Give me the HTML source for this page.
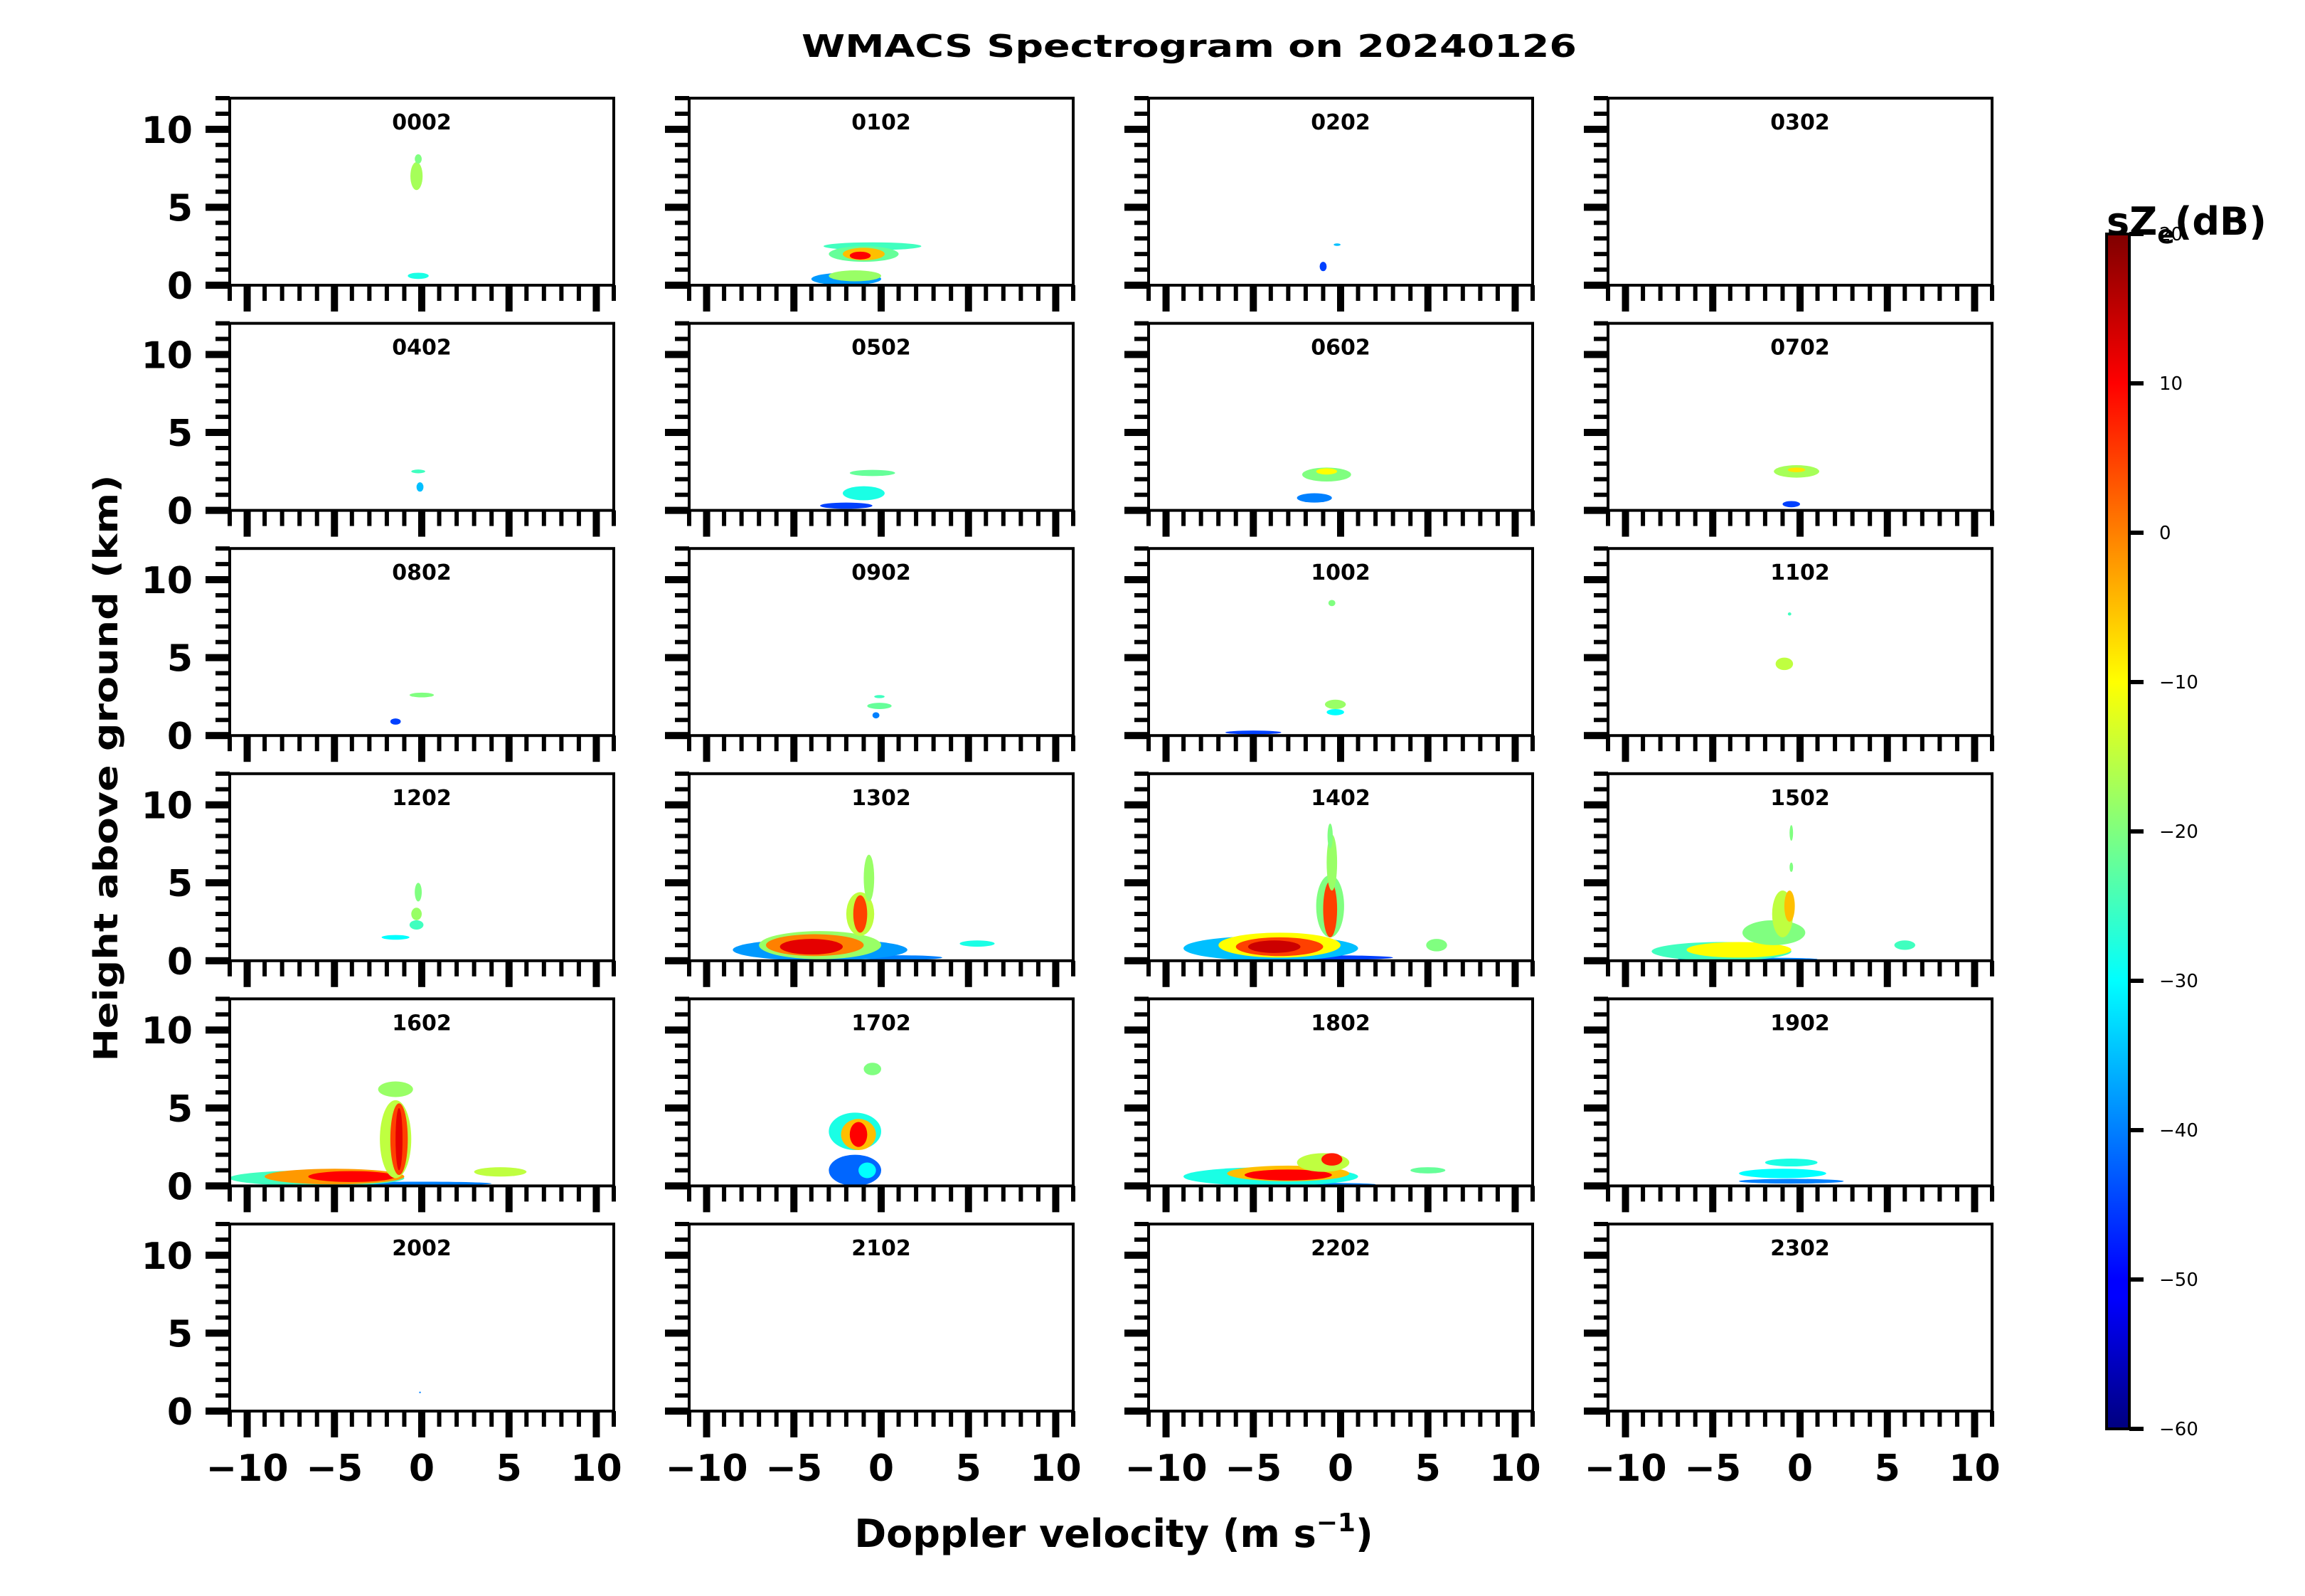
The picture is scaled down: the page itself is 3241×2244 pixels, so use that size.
<!DOCTYPE html>
<html><head><meta charset="utf-8"><style>
html,body{margin:0;padding:0;background:#fff;}
svg{display:block;}
text{font-family:"DejaVu Sans","Liberation Sans",sans-serif;font-weight:bold;fill:#000;}
</style></head><body>
<svg id="fig" xmlns="http://www.w3.org/2000/svg" width="3241" height="2244" viewBox="0 0 3241 2244">
<defs>
<linearGradient id="jet" x1="0" y1="1" x2="0" y2="0">
<stop offset="0" stop-color="#00007f"/><stop offset="0.11" stop-color="#0000ff"/><stop offset="0.125" stop-color="#0000ff"/>
<stop offset="0.375" stop-color="#00ffff"/><stop offset="0.5" stop-color="#7fff7f"/><stop offset="0.625" stop-color="#ffff00"/>
<stop offset="0.875" stop-color="#ff0000"/><stop offset="1" stop-color="#7f0000"/>
</linearGradient>
</defs>
<text x="1672" y="80" font-size="44" text-anchor="middle" textLength="1090" lengthAdjust="spacingAndGlyphs">WMACS Spectrogram on 20240126</text>
<text transform="translate(165,1080) rotate(-90)" font-size="46" text-anchor="middle" textLength="825" lengthAdjust="spacingAndGlyphs">Height above ground (km)</text>
<text x="1566" y="2175" font-size="54" text-anchor="middle">Doppler velocity (m s<tspan font-size="36" dy="-22">−1</tspan><tspan dy="22">)</tspan></text>
<g id="panels"></g>
<g id="cbar"></g>
</svg>
<script>
// panel labels (times)
const times = ["0002","0102","0202","0302","0402","0502","0602","0702","0802","0902","1002","1102","1202","1302","1402","1502","1602","1702","1802","1902","2002","2102","2202","2302"];
const xTicks = [-10,-5,0,5,10];
const yTicks = [0,5,10];
const cbarTicks = [20,10,0,-10,-20,-30,-40,-50,-60];
// echo blobs per panel: [velocity center, height center, velocity half-width, height half-extent, dBZ]
const blobs = [
 [[-0.3,7.0,0.35,0.9,-17],[-0.2,8.1,0.2,0.3,-20],[-0.2,0.6,0.6,0.2,-28]],
 [[-2,0.4,2,0.4,-38],[-1.5,0.6,1.5,0.35,-18],[-0.5,2.5,2.8,0.25,-25],[-1,2.0,2,0.5,-22],[-1,2.0,1.2,0.4,-5],[-1.2,1.9,0.6,0.25,10]],
 [[-1,1.2,0.2,0.3,-45],[-0.2,2.6,0.2,0.08,-35]],
 [],
 [[-0.2,2.5,0.4,0.12,-25],[-0.1,1.5,0.2,0.3,-35]],
 [[-2,0.3,1.5,0.2,-45],[-1,1.1,1.2,0.45,-28],[-0.5,2.4,1.3,0.2,-22]],
 [[-1.5,0.8,1,0.3,-40],[-0.8,2.3,1.4,0.45,-20],[-0.8,2.5,0.6,0.2,-10]],
 [[-0.5,0.4,0.5,0.2,-45],[-0.2,2.5,1.3,0.4,-17],[-0.2,2.6,0.5,0.15,-8]],
 [[-1.5,0.9,0.3,0.2,-45],[0,2.6,0.7,0.15,-20]],
 [[-0.3,1.3,0.2,0.2,-40],[-0.1,1.9,0.7,0.2,-22],[-0.1,2.5,0.3,0.1,-25]],
 [[-5,0.2,1.6,0.12,-45],[-0.3,1.5,0.5,0.2,-30],[-0.3,2.0,0.6,0.3,-18],[-0.5,8.5,0.2,0.2,-20]],
 [[-0.9,4.6,0.5,0.4,-15],[-0.6,7.8,0.1,0.1,-25]],
 [[-1.5,1.5,0.8,0.15,-30],[-0.3,2.3,0.4,0.3,-25],[-0.3,3.0,0.3,0.4,-18],[-0.2,4.4,0.2,0.6,-20]],
 [[1,0.2,2.5,0.15,-40],[-3.5,0.7,5,0.7,-38],[-3.5,1.0,3.5,0.9,-18],[-3.8,1.0,2.8,0.7,0],[-4,0.9,1.8,0.5,12],[-1.2,3,0.8,1.4,-15],[-1.2,3,0.4,1.2,5],[-0.7,5.3,0.3,1.5,-18],[5.5,1.1,1,0.2,-28]],
 [[-1,0.2,4,0.15,-45],[-4,0.8,5,0.8,-35],[-3.5,1.0,3.5,0.8,-10],[-3.5,0.9,2.5,0.6,5],[-3.8,0.9,1.5,0.4,14],[-0.6,3.5,0.8,2,-20],[-0.6,3.3,0.4,1.8,5],[-0.5,6.3,0.3,1.8,-18],[-0.6,8,0.15,0.8,-20],[5.5,1.0,0.6,0.4,-20]],
 [[-3,0.1,4,0.1,-40],[-4.5,0.6,4,0.6,-25],[-3.5,0.7,3,0.5,-10],[-1.5,1.8,1.8,0.8,-20],[-1,3,0.6,1.5,-15],[-0.6,3.5,0.3,1,-5],[-0.5,6,0.1,0.3,-20],[-0.5,8.2,0.1,0.5,-20],[6,1.0,0.6,0.3,-25]],
 [[0,0.15,4,0.12,-40],[-6,0.5,5,0.5,-25],[-5,0.6,4,0.5,-2],[-4,0.6,2.5,0.35,10],[-1.5,3,0.9,2.5,-15],[-1.3,3,0.5,2.3,5],[-1.3,3,0.2,2,12],[-1.5,6.2,1,0.5,-18],[4.5,0.9,1.5,0.3,-15]],
 [[-1.5,1,1.5,1,-42],[-0.8,1,0.5,0.5,-30],[-1.5,3.5,1.5,1.2,-28],[-1.3,3.3,1,1.0,-5],[-1.3,3.3,0.5,0.8,10],[-0.5,7.5,0.5,0.4,-20]],
 [[-2,0.1,4,0.1,-40],[-4,0.6,5,0.6,-28],[-3,0.8,3.5,0.5,-5],[-3,0.7,2.5,0.35,10],[-1,1.5,1.5,0.6,-15],[-0.5,1.7,0.6,0.4,8],[5,1,1,0.2,-22]],
 [[-0.5,0.3,3,0.15,-40],[-1,0.8,2.5,0.3,-30],[-0.5,1.5,1.5,0.25,-28]],
 [[-0.1,1.2,0.05,0.05,-40]],
 [],[],[]
];
const NS="http://www.w3.org/2000/svg";
const X0=323, DX=646, W=540, Y0=138, DY=316.6, H=263;
const VMIN=-11, VMAX=11, HMIN=0, HMAX=12;
function jet(db){let x=(db+60)/80;x=Math.max(0,Math.min(1,x));
 const c=v=>Math.round(255*Math.max(0,Math.min(1,v)));
 return `rgb(${c(1.5-Math.abs(4*x-3))},${c(1.5-Math.abs(4*x-2))},${c(1.5-Math.abs(4*x-1))})`;}
function mk(tag,attrs,parent){const e=document.createElementNS(NS,tag);for(const k in attrs)e.setAttribute(k,attrs[k]);parent.appendChild(e);return e;}
const panels=document.getElementById('panels');
times.forEach((t,i)=>{
 const r=Math.floor(i/4), c=i%4;
 const px=X0+c*DX, py=Y0+r*DY;
 const sx=v=>px+(v-VMIN)/(VMAX-VMIN)*W;
 const sy=h=>py+H-(h-HMIN)/(HMAX-HMIN)*H;
 const g=mk('g',{},panels);
 
 
 const cp=mk('clipPath',{id:'cp'+i},g);
 mk('rect',{x:px,y:py,width:W,height:H},cp);
 const bg=mk('g',{'clip-path':`url(#cp${i})`},g);
 blobs[i].forEach(b=>{
  const e=mk('ellipse',{cx:sx(b[0]),cy:sy(b[1]),rx:b[2]*W/(VMAX-VMIN),ry:b[3]*H/(HMAX-HMIN),fill:jet(b[4])},bg);
  
  
 });
 const fr=mk('rect',{x:px,y:py,width:W,height:H,fill:'none',stroke:'#000','stroke-width':4},g);
 
 
 const lb=mk('text',{x:px+W/2,y:py+44,'font-size':30,'text-anchor':'middle'},g);
 lb.textContent=t;
 
 
 for(let v=-11;v<=11;v++){
  const major=v%5===0;
  mk('rect',{x:sx(v)-(major?5:3),y:py+H,width:major?10:6,height:major?37:22,fill:'#000'},g);
 }
 for(let h=0;h<=12;h++){
  const major=h%5===0;
  mk('rect',{x:px-(major?34:20),y:sy(h)-(major?5:3),width:major?34:20,height:major?10:6,fill:'#000'},g);
 }
 if(c===0){
  yTicks.forEach(h=>{const tx=mk('text',{x:px-52,y:sy(h)+19,'font-size':52,'text-anchor':'end'},g);tx.textContent=h;
   
   });
 }
 if(r===5){
  xTicks.forEach(v=>{const tx=mk('text',{x:sx(v),y:py+H+98,'font-size':52,'text-anchor':'middle'},g);tx.textContent=(v<0?'−':'')+Math.abs(v);
   
   });
 }
});
const cb=document.getElementById('cbar');
const CX=2962, CW=32, CY=329, CH=1680;
mk('rect',{x:CX,y:CY,width:CW,height:CH,fill:'url(#jet)',stroke:'#000','stroke-width':4},cb);
cbarTicks.forEach(v=>{
 const y=CY+CH*(20-v)/80;
 mk('rect',{x:CX+CW,y:y-3,width:20,height:6,fill:'#000'},cb);
 const t=mk('text',{x:CX+CW+42,y:y+9,'font-size':26},cb);
 t.style.fontWeight='normal';
 t.textContent=(v<0?'−':'')+Math.abs(v);
 
 
});
const ct=mk('text',{x:2962,y:330,'font-size':54},cb);
ct.innerHTML='sZ<tspan font-size="36" dy="12">e</tspan><tspan dy="-12">(dB)</tspan>';


</script>
</body></html>
